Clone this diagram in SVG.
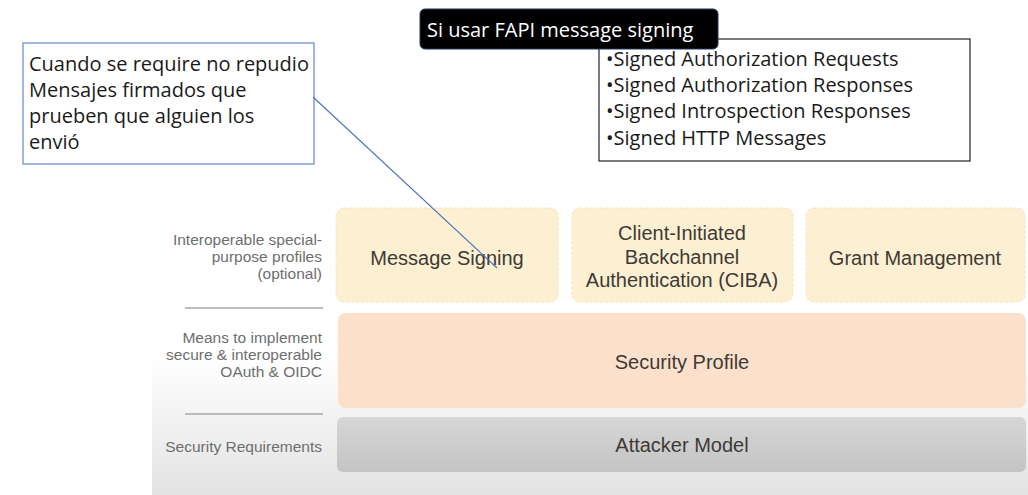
<svg xmlns="http://www.w3.org/2000/svg" width="1028" height="495" viewBox="0 0 1028 495">
<defs>
<linearGradient id="panelGrad" x1="0" y1="0" x2="0" y2="1">
<stop offset="0" stop-color="#ffffff"/>
<stop offset="0.55" stop-color="#ffffff"/>
<stop offset="1" stop-color="#e3e3e3"/>
</linearGradient>
<linearGradient id="grayGrad" x1="0" y1="0" x2="0" y2="1">
<stop offset="0" stop-color="#d6d6d6"/>
<stop offset="1" stop-color="#c4c4c4"/>
</linearGradient>
<style>
.cal{font-family:"Open Sans","Liberation Sans",sans-serif;font-size:20px;fill:#1a1a1a}
.lbl{font-family:"Liberation Sans",Arial,sans-serif;font-size:15.5px;fill:#6e6e6e;text-anchor:end}
.main{font-family:"Liberation Sans",Arial,sans-serif;font-size:20px;fill:#3d3a36;text-anchor:middle}
.yel{fill:#fdf0d2;stroke:#f6e4b9;stroke-width:1;stroke-dasharray:3 2}
.sep{stroke:#a8a8a8;stroke-width:1.5}
</style>
</defs>
<rect width="1028" height="495" fill="#ffffff"/>
<rect x="152" y="190" width="876" height="305" fill="url(#panelGrad)"/>

<g id="labels">
<text class="lbl" x="322" y="245">Interoperable special-</text>
<text class="lbl" x="322" y="262">purpose profiles</text>
<text class="lbl" x="322" y="279">(optional)</text>
<line class="sep" x1="185" y1="308" x2="323" y2="308"/>
<text class="lbl" x="322" y="343">Means to implement</text>
<text class="lbl" x="322" y="360">secure &amp; interoperable</text>
<text class="lbl" x="322" y="377">OAuth &amp; OIDC</text>
<line class="sep" x1="185" y1="414" x2="323" y2="414"/>
<text class="lbl" x="322" y="452">Security Requirements</text>
</g>

<g id="message-signing">
<rect class="yel" x="336" y="208" width="222" height="94" rx="8"/>
<text class="main" x="447" y="265">Message Signing</text>
</g>
<g id="ciba">
<rect class="yel" x="572" y="208" width="221" height="94" rx="8"/>
<text class="main" x="682" y="240">Client-Initiated</text>
<text class="main" x="682" y="264">Backchannel</text>
<text class="main" x="682" y="287">Authentication (CIBA)</text>
</g>
<g id="grant-management">
<rect class="yel" x="806" y="208" width="219" height="94" rx="8"/>
<text class="main" x="915" y="265">Grant Management</text>
</g>
<g id="security-profile">
<rect x="338" y="313" width="688" height="95" rx="8" fill="#fbe0cb"/>
<text class="main" x="682" y="369">Security Profile</text>
</g>
<g id="attacker-model">
<rect x="337" y="417" width="689" height="55" rx="6" fill="url(#grayGrad)"/>
<text class="main" x="682" y="452">Attacker Model</text>
</g>

<g id="note-left">
<rect x="23" y="43" width="291" height="121" fill="#ffffff" stroke="#6f8fcf" stroke-width="1.3"/>
<text class="cal" x="29" y="71">Cuando se require no repudio</text>
<text class="cal" x="29" y="97">Mensajes firmados que</text>
<text class="cal" x="29" y="123">prueben que alguien los</text>
<text class="cal" x="29" y="149">envió</text>
</g>

<g id="bullet-list">
<rect x="599" y="39" width="371" height="122" fill="#ffffff" stroke="#222" stroke-width="1.2"/>
<text class="cal" x="606" y="66">•Signed Authorization Requests</text>
<text class="cal" x="606" y="92">•Signed Authorization Responses</text>
<text class="cal" x="606" y="118">•Signed Introspection Responses</text>
<text class="cal" x="606" y="145">•Signed HTTP Messages</text>
</g>

<g id="title-fapi">
<rect x="420" y="9" width="298" height="40" rx="5" fill="#000" stroke="#24365a" stroke-width="1"/>
<text class="cal" x="427" y="37" style="fill:#ffffff">Si usar FAPI message signing</text>
</g>

<g id="connectors">
<line x1="313" y1="97" x2="497" y2="268" stroke="#4a6fc0" stroke-width="1.1"/>
</g>
</svg>
